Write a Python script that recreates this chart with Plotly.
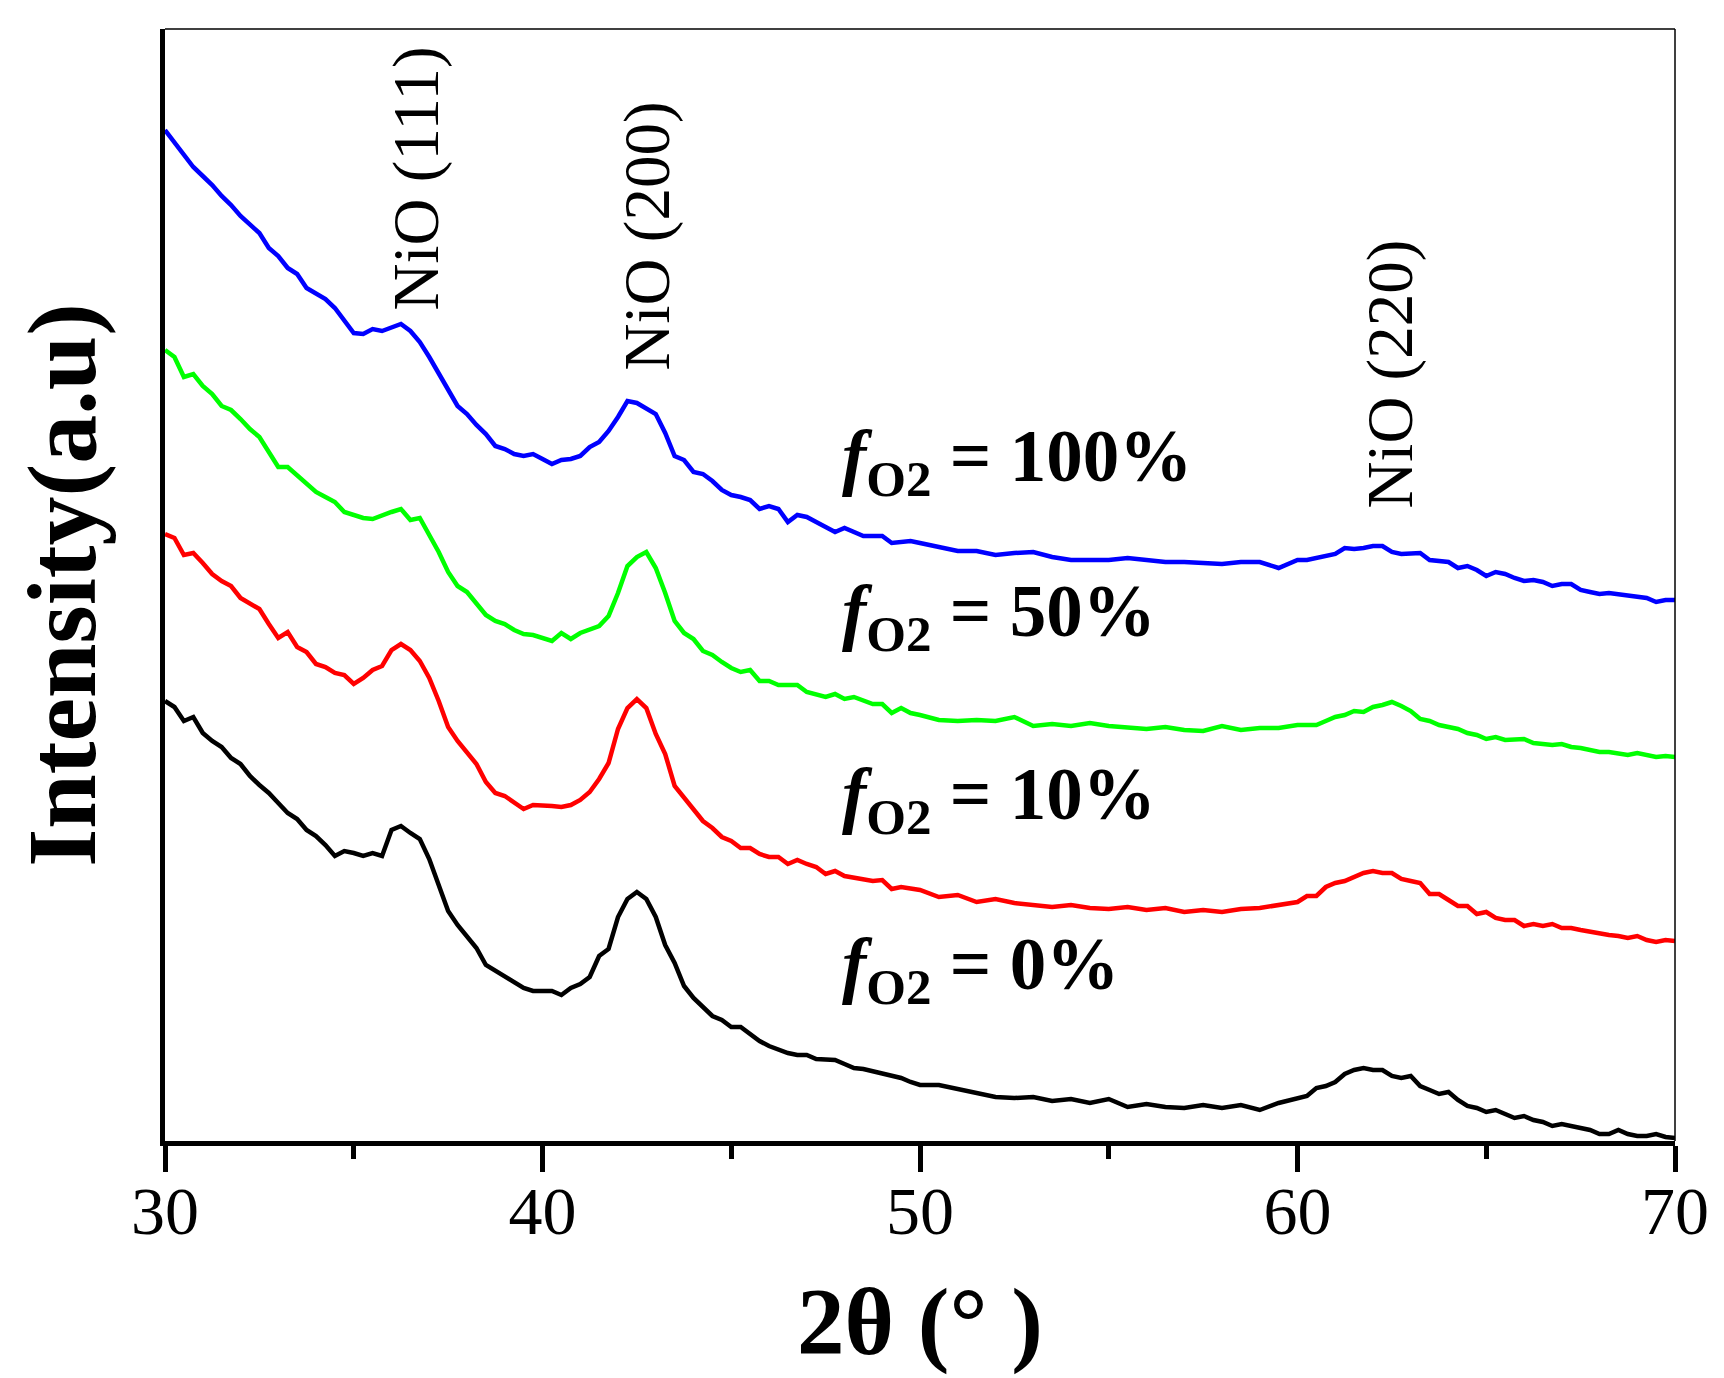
import plotly.graph_objects as go

# XRD-Muster NiO, Beugungswinkel 2theta (feines Raster an den Reflexen)
two_theta = ([30 + 0.25 * i for i in range(81)]
             + [50.5 + 0.5 * i for i in range(19)]
             + [60 + 0.25 * i for i in range(41)])

# Intensitaeten (a.u.), bereits vertikal versetzt wie im Original
f_100 = [1011, 999, 986, 974, 965, 956, 945, 936, 925, 916, 908, 893, 885, 873, 867, 853, 847, 842, 833, 821,
         808, 807, 812, 810, 813, 817, 810, 799, 784, 767, 751, 735, 727, 716, 707, 695, 692, 687, 685, 687,
         682,
         677, 681, 682, 685, 694, 699, 710, 724, 740, 738, 733, 727, 708, 685, 681, 669, 667, 660, 651, 646,
         644, 641, 632, 635, 632, 619, 626, 624, 619, 614, 609, 613, 609, 605, 605, 605, 598, 599, 600, 598,
         594, 590, 590, 586, 588, 589, 584, 581, 581, 581, 583, 581, 579, 579, 578, 577, 579, 579, 573,
         581, 581, 583, 585, 587, 593, 592, 593, 595, 595, 589, 587, 587, 588, 581, 580, 579, 573, 575, 571,
         565, 569, 567, 563, 560, 561, 559, 555, 557, 557, 551, 549, 547, 548, 547, 545, 545, 543, 539, 541,
         541]
f_50 = [791, 784, 764, 767, 755, 747, 735, 731, 722, 712, 704, 689, 674, 674, 666, 658, 649, 644, 639, 629,
        626, 623, 622, 626, 629, 632, 621, 623, 606, 589, 569, 555, 549, 537, 526, 520, 517, 511, 507, 506,
        503,
        500, 508, 502, 508, 511, 515, 525, 548, 575, 584, 589, 573, 548, 520, 508, 502, 490, 486, 479, 473,
        469, 471, 460, 460, 456, 456, 456, 449, 447, 444, 447, 442, 444, 440, 437, 437, 428, 433, 428, 426,
        421, 420, 421, 420, 424, 415, 417, 415, 418, 415, 414, 412, 414, 411, 410, 415, 411, 413, 413,
        416, 416, 416, 420, 424, 426, 430, 429, 434, 436, 439, 435, 430, 422, 420, 416, 414, 412, 408, 406,
        402, 404, 401, 401, 402, 398, 397, 396, 397, 394, 393, 391, 389, 389, 388, 386, 388, 386, 384, 385,
        384]
f_10 = [607, 603, 586, 588, 578, 567, 560, 555, 543, 537, 532, 517, 503, 509, 494, 489, 477, 474, 468, 466,
        457, 463, 471, 475, 491, 497, 491, 480, 463, 440, 414, 400, 388, 377, 359, 348, 345, 338, 332, 336,
        336,
        335, 334, 336, 341, 349, 362, 378, 412, 433, 442, 433, 407, 387, 355, 343, 332, 320, 313, 304, 300,
        293, 293, 287, 284, 284, 277, 281, 277, 274, 267, 270, 265, 263, 261, 260, 261, 252, 254, 252, 251,
        244, 246, 239, 242, 238, 236, 234, 236, 233, 232, 234, 231, 233, 229, 231, 229, 232, 233, 236,
        239, 245, 245, 254, 258, 260, 264, 268, 270, 268, 268, 262, 260, 258, 247, 247, 241, 235, 235, 227,
        229, 223, 221, 221, 215, 217, 215, 217, 213, 213, 211, 209, 207, 206, 205, 203, 205, 201, 199, 201,
        200]
f_0 = [440, 434, 420, 424, 408, 400, 394, 383, 377, 365, 356, 348, 338, 328, 322, 311, 305, 296, 285, 290,
       288, 285, 288, 285, 311, 315, 308, 302, 282, 256, 230, 216, 204, 193, 176, 170, 164, 158, 153, 150,
       150,
       150, 146, 153, 157, 164, 185, 192, 224, 242, 249, 242, 224, 196, 178, 155, 143, 134, 125, 121, 114,
       114, 107, 100, 95, 91, 88, 86, 86, 82, 82, 81, 77, 73, 72, 70, 68, 65, 63, 59, 56,
       56, 52, 48, 44, 43, 44, 40, 42, 38, 42, 34, 37, 34, 33, 36, 33, 36, 31, 38,
       43, 45, 53, 55, 59, 67, 71, 73, 71, 71, 65, 63, 65, 55, 51, 47, 49, 41, 35, 33,
       29, 31, 27, 23, 25, 21, 19, 15, 17, 15, 12, 11, 7, 7, 11, 7, 5, 5, 7, 4,
       3]

# Reflexe und Probenbeschriftungen
peak_names = ["NiO (111)", "NiO (200)", "NiO (220)"]
peak_x = [36.66, 42.78, 62.44]
peak_y = [963, 905, 767]
sample_names = ["100%", "50%", "10%", "0%"]
sample_y = [680, 525, 342, 172]

font_serif = "Liberation Serif"

fig = go.Figure()
# Reihenfolge: unten zuerst
for werte, farbe in [(f_0, "#000000"), (f_10, "#ff0000"), (f_50, "#00ff00"), (f_100, "#0000ff")]:
    fig.add_trace(
        go.Scatter(x=two_theta, y=werte, mode="lines",
                   line=dict(color=farbe, width=4.5), showlegend=False)
    )

for name, x, y in zip(peak_names, peak_x, peak_y):
    fig.add_annotation(x=x, y=y, xref="x", yref="y", text=name, textangle=-90,
                       showarrow=False, xanchor="center", yanchor="middle",
                       font=dict(family=font_serif, size=65, color="black"))

for name, y in zip(sample_names, sample_y):
    fig.add_annotation(x=47.88, y=y, xref="x", yref="y",
                       text="<b><i>f</i><sub>O2</sub> = " + name + "</b>",
                       showarrow=False, xanchor="left", yanchor="middle",
                       font=dict(family=font_serif, size=73, color="black"))

# Achsentitel unten als Annotation (genauere Lage)
fig.add_annotation(x=0.5, y=-0.163, xref="paper", yref="paper",
                   text="<b>2θ (° )</b>", showarrow=False, xanchor="center", yanchor="middle",
                   font=dict(family=font_serif, size=95, color="black"))

# duenner Rahmen oben und rechts
fig.add_shape(type="line", xref="paper", yref="paper", x0=0, x1=1, y0=1, y1=1,
              line=dict(color="black", width=1.5))
fig.add_shape(type="line", xref="paper", yref="paper", x0=1, x1=1, y0=0, y1=1,
              line=dict(color="black", width=1.5))

# Seite hat 8 px Rand, daher Raender etwas kleiner
fig.update_layout(
    width=1724, height=1378,
    margin=dict(l=157, r=57, t=21, b=245),
    plot_bgcolor="white", paper_bgcolor="white",
    font=dict(family=font_serif, color="black"),
    xaxis=dict(
        range=[30, 70], showgrid=False, zeroline=False,
        showline=True, linecolor="black", linewidth=5,
        ticks="outside", tickvals=[30, 40, 50, 60, 70], ticklen=26, tickwidth=5, tickcolor="black",
        minor=dict(tickvals=[35, 45, 55, 65], ticks="outside", ticklen=13, tickwidth=5, tickcolor="black"),
        tickfont=dict(family=font_serif, size=68, color="black"),
        ticklabelstandoff=-20,
    ),
    yaxis=dict(
        range=[0, 1112], showgrid=False, zeroline=False,
        showline=True, linecolor="black", linewidth=5,
        showticklabels=False, ticks="",
        title=dict(text="<b>Intensity(a.u)</b>", font=dict(family=font_serif, size=98, color="black"), standoff=37),
    ),
)

fig.write_html("out.html")
